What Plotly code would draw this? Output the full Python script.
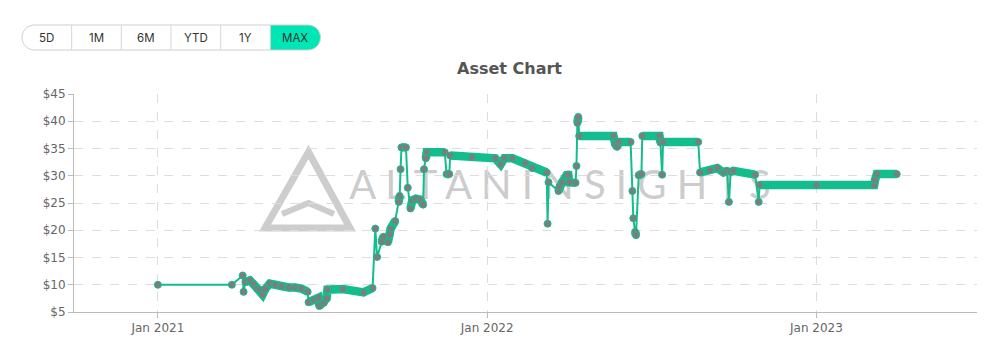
import plotly.graph_objects as go
from datetime import date

# ---------------- data ----------------
dates = [
    "2021-01-01", "2021-03-24", "2021-04-05", "2021-04-06", "2021-04-08", "2021-04-13",
    "2021-04-17", "2021-04-21", "2021-04-24", "2021-04-27", "2021-04-30", "2021-05-05",
    "2021-05-11", "2021-05-18", "2021-05-26", "2021-06-02", "2021-06-09", "2021-06-16",
    "2021-06-17", "2021-06-23", "2021-06-28", "2021-06-29", "2021-07-04", "2021-07-07",
    "2021-07-08", "2021-07-25", "2021-08-17", "2021-08-27", "2021-08-30", "2021-09-01",
    "2021-09-06", "2021-09-08", "2021-09-13", "2021-09-15", "2021-09-16", "2021-09-21",
    "2021-09-25", "2021-09-26", "2021-09-27", "2021-09-28", "2021-10-03", "2021-10-05",
    "2021-10-08", "2021-10-10", "2021-10-14", "2021-10-19", "2021-10-22", "2021-10-23",
    "2021-10-25", "2021-10-26", "2021-11-15", "2021-11-17", "2021-11-20", "2021-11-21",
    "2021-12-15", "2022-01-10", "2022-01-16", "2022-01-20", "2022-01-29", "2022-02-12",
    "2022-02-20", "2022-03-08", "2022-03-09", "2022-03-10", "2022-03-21", "2022-03-22",
    "2022-03-25", "2022-03-30", "2022-04-01", "2022-04-02", "2022-04-09", "2022-04-10",
    "2022-04-11", "2022-04-12", "2022-04-13", "2022-05-21", "2022-05-23", "2022-05-25",
    "2022-05-27", "2022-06-09", "2022-06-11", "2022-06-12", "2022-06-14", "2022-06-15",
    "2022-06-18", "2022-06-21", "2022-06-22", "2022-07-11", "2022-07-12", "2022-07-14",
    "2022-07-15", "2022-08-23", "2022-08-25", "2022-09-05", "2022-09-13", "2022-09-20",
    "2022-09-24", "2022-09-26", "2022-09-28", "2022-10-01", "2022-10-25", "2022-10-29",
    "2022-10-30", "2023-01-01", "2023-03-06", "2023-03-07", "2023-03-09", "2023-03-31",
]
prices = [
    10.0, 10.0, 11.7, 8.7, 10.5, 10.8,
    10.1, 9.3, 9.1, 8.2, 9.2, 10.2,
    10.0, 9.7, 9.5, 9.5, 9.3, 8.7,
    6.8, 7.2, 7.6, 6.1, 6.7, 7.5,
    9.1, 9.2, 8.6, 9.4, 20.3, 15.1,
    17.9, 18.8, 17.8, 19.2, 20.3, 21.7,
    25.2, 26.3, 31.2, 35.2, 35.2, 27.8,
    24.0, 25.5, 25.8, 25.6, 24.7, 31.2,
    33.2, 34.3, 34.3, 30.3, 30.3, 33.7,
    33.4, 33.2, 32.1, 33.2, 33.2, 32.3,
    31.4, 30.6, 21.2, 28.8, 27.2, 28.0,
    28.8, 30.1, 30.1, 28.8, 28.7, 31.8,
    39.7, 40.8, 37.3, 37.3, 35.8, 35.3,
    36.2, 36.2, 27.2, 22.2, 19.7, 19.1,
    30.1, 30.3, 37.3, 37.3, 36.1, 30.2,
    36.2, 36.2, 30.6, 31.0, 31.4, 30.6,
    30.9, 25.2, 30.7, 30.9, 30.2, 25.2,
    28.3, 28.3, 28.3, 29.2, 30.3, 30.3,
]
range_buttons = ["5D", "1M", "6M", "YTD", "1Y", "MAX"]
active_button = "MAX"
title_text = "Asset Chart"
watermark_text = "ALTANINSIGHTS"

GREEN = "#13bd8e"
GRAY_DOT = "#7d7d7d"
MINT = "#00e6b4"

# ---------------- layout geometry ----------------
W_FIG, H_FIG = 995, 358
M_L, M_R, M_T, M_B = 74, 18, 94, 46
PW = W_FIG - M_L - M_R
PH = H_FIG - M_T - M_B


def px(x):
    return (x - M_L) / PW


def py(y):
    return (M_T + PH - y) / PH


# dense (daily-sampled) stretches drawn as thick band
bx, by = [], []
for i in range(len(dates) - 1):
    d0 = date.fromisoformat(dates[i])
    d1 = date.fromisoformat(dates[i + 1])
    dd = (d1 - d0).days
    dv = abs(prices[i + 1] - prices[i])
    if (dd <= 75 and dv <= 1.0) or (dd <= 12 and dv <= 1.6):
        if bx and bx[-1] == dates[i]:
            bx.append(dates[i + 1]); by.append(prices[i + 1])
        else:
            if bx:
                bx.append(None); by.append(None)
            bx += [dates[i], dates[i + 1]]
            by += [prices[i], prices[i + 1]]

fig = go.Figure()
fig.add_trace(go.Scatter(x=bx, y=by, mode="lines", connectgaps=False,
                         line=dict(color=GREEN, width=8.5), hoverinfo="skip",
                         showlegend=False))
fig.add_trace(go.Scatter(x=dates, y=prices, mode="lines+markers",
                         line=dict(color=GREEN, width=2),
                         marker=dict(size=7, color=GRAY_DOT,
                                     line=dict(color=GREEN, width=1)),
                         showlegend=False, name="Price"))

shapes = []
# watermark (behind data)
tri = [(265, 228), (308.5, 152), (350, 228)]
shapes.append(dict(type="path", xref="paper", yref="paper", layer="below",
                   path="M{},{} L{},{} L{},{} Z".format(px(tri[0][0]), py(tri[0][1]),
                                                        px(tri[1][0]), py(tri[1][1]),
                                                        px(tri[2][0]), py(tri[2][1])),
                   line=dict(color="rgba(200,200,200,0.9)", width=7)))
shapes.append(dict(type="path", xref="paper", yref="paper", layer="below",
                   path="M{},{} L{},{} L{},{}".format(px(282), py(214), px(308.5), py(203),
                                                       px(334), py(214)),
                   line=dict(color="rgba(200,200,200,0.9)", width=6)))
shapes.append(dict(type="rect", xref="paper", yref="paper", layer="below",
                   x0=px(354), x1=px(766), y0=py(203), y1=py(163),
                   line=dict(width=0), fillcolor="rgba(0,0,0,0)",
                   label=dict(text=" ".join(watermark_text),
                              font=dict(family="Lato", size=40, color="rgba(195,195,195,0.85)"),
                              textposition="middle center")))

# range-button pill
bx0, bx1, by0, by1 = 22, 320.5, 25, 50
r = 12.5


def rounded(x0, x1, y0, y1, rl, rr):
    kl, kr = 0.5523 * rl, 0.5523 * rr
    pts = []
    pts.append("M{},{}".format(px(x0 + rl), py(y0)))
    pts.append("L{},{}".format(px(x1 - rr), py(y0)))
    if rr:
        pts.append("C{},{} {},{} {},{}".format(px(x1 - rr + kr), py(y0), px(x1), py(y0 + rr - kr), px(x1), py(y0 + rr)))
        pts.append("C{},{} {},{} {},{}".format(px(x1), py(y1 - rr + kr), px(x1 - rr + kr), py(y1), px(x1 - rr), py(y1)))
    else:
        pts.append("L{},{}".format(px(x1), py(y0)))
        pts.append("L{},{}".format(px(x1), py(y1)))
    pts.append("L{},{}".format(px(x0 + rl), py(y1)))
    if rl:
        pts.append("C{},{} {},{} {},{}".format(px(x0 + rl - kl), py(y1), px(x0), py(y1 - rl + kl), px(x0), py(y1 - rl)))
        pts.append("C{},{} {},{} {},{}".format(px(x0), py(y0 + rl - kl), px(x0 + rl - kl), py(y0), px(x0 + rl), py(y0)))
    else:
        pts.append("L{},{}".format(px(x0), py(y1)))
        pts.append("L{},{}".format(px(x0), py(y0)))
    pts.append("Z")
    return " ".join(pts)


bw = (bx1 - bx0 - 0.5) / len(range_buttons)
annotations = []
for i, lab in enumerate(range_buttons):
    xl = bx0 + i * bw
    xr = xl + bw if i < len(range_buttons) - 1 else bx1
    if lab == active_button:
        shapes.append(dict(type="path", xref="paper", yref="paper", layer="above",
                           path=rounded(xl, xr, by0, by1, 0, r if i == len(range_buttons) - 1 else 0),
                           fillcolor=MINT, line=dict(width=0)))
    if i > 0:
        shapes.append(dict(type="line", xref="paper", yref="paper", layer="above",
                           x0=px(xl), x1=px(xl), y0=py(by0 + 0.5), y1=py(by1 - 0.5),
                           line=dict(color="#d6d6d6", width=1)))
    annotations.append(dict(text=lab, xref="paper", yref="paper", showarrow=False,
                            x=px((xl + xr) / 2), y=py(37.7), xanchor="center", yanchor="middle",
                            font=dict(family="Inter", size=11.5, color="#333333")))
shapes.append(dict(type="path", xref="paper", yref="paper", layer="above",
                   path=rounded(bx0, bx1, by0, by1, r, r),
                   line=dict(color="#cfcfcf", width=1)))

fig.update_layout(
    width=W_FIG, height=H_FIG,
    margin=dict(l=M_L, r=M_R, t=M_T, b=M_B),
    paper_bgcolor="white", plot_bgcolor="white",
    title=dict(text="<b>" + title_text + "</b>", xref="container", yref="container",
               x=509.5 / W_FIG, y=1 - 68 / H_FIG, xanchor="center", yanchor="middle",
               font=dict(family="DejaVu Sans", size=16, color="#555555")),
    font=dict(family="DejaVu Sans", size=12, color="#666666"),
    xaxis=dict(type="date", range=["2020-09-30", "2023-06-28"],
               tick0="2021-01-01", dtick="M12", tickformat="%b %Y",
               showgrid=True, gridcolor="#dddddd", griddash="dash", gridwidth=1,
               showline=True, linecolor="#bbbbbb", linewidth=1,
               ticks="outside", ticklen=5, tickcolor="#bbbbbb",
               zeroline=False, tickfont=dict(size=12, color="#666666")),
    yaxis=dict(range=[5, 45], dtick=5, tick0=5, tickprefix="$",
               showgrid=True, gridcolor="#dddddd", griddash="dash", gridwidth=1,
               showline=True, linecolor="#bbbbbb", linewidth=1,
               ticks="outside", ticklen=5, tickcolor="#bbbbbb",
               zeroline=False, tickfont=dict(size=12, color="#666666")),
    shapes=shapes,
    annotations=annotations,
)

fig.write_html("out.html", config={"displayModeBar": False},
               post_script="document.body.style.margin='0px';document.body.style.overflow='hidden';")
